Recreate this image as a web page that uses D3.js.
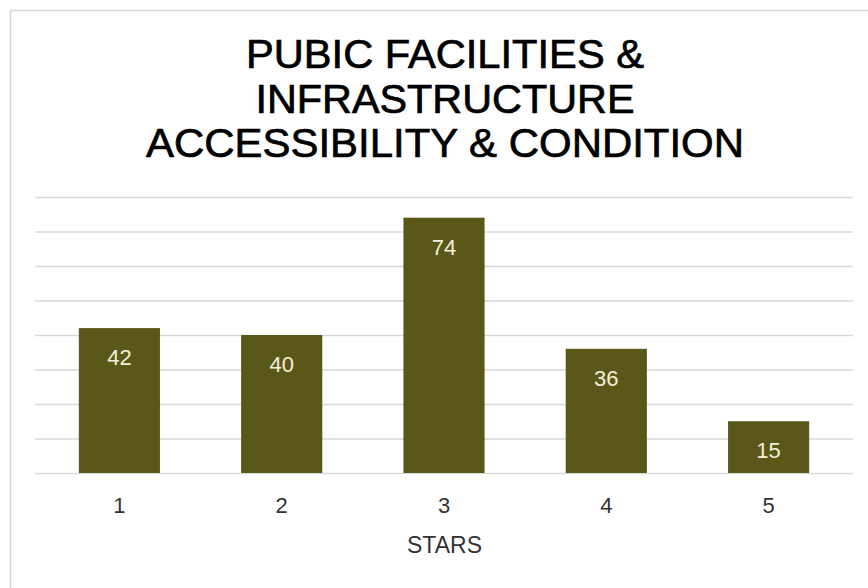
<!DOCTYPE html>
<html>
<head>
<meta charset="utf-8">
<script src="https://cdn.jsdelivr.net/npm/d3@7"></script>
<style>
  html, body { margin: 0; padding: 0; background: #ffffff; }
  svg { display: block; }
  text { font-family: "Liberation Sans", Arial, Helvetica, sans-serif; }
</style>
</head>
<body>
<svg id="chart" width="868" height="588"></svg>
<script>
const titleLines = ["PUBIC FACILITIES &", "INFRASTRUCTURE", "ACCESSIBILITY & CONDITION"];
const categories = ["1", "2", "3", "4", "5"];
const values = [42, 40, 74, 36, 15];
const yTicks = [0, 10, 20, 30, 40, 50, 60, 70, 80];
const xAxisTitle = "STARS";

const svg = d3.select("#chart");
const W = 868, H = 588;

// chart area border
svg.append("rect")
  .attr("x", 10.5).attr("y", 10.5)
  .attr("width", W + 20).attr("height", H + 20)
  .attr("fill", "#ffffff")
  .attr("stroke", "#d9d9d9").attr("stroke-width", 1.5);

const plot = { left: 35, right: 853, top: 197, bottom: 473 };

const x = d3.scaleBand()
  .domain(categories)
  .range([plot.left, plot.right])
  .paddingInner(0.5)
  .paddingOuter(0.27);

const y = d3.scaleLinear()
  .domain([0, 80])
  .range([plot.bottom, plot.top]);

// gridlines
const yAxis = d3.axisLeft(y).tickValues(yTicks).tickSize(-(plot.right - plot.left)).tickFormat("");
const gGrid = svg.append("g")
  .attr("transform", `translate(${plot.left},0)`)
  .call(yAxis);
gGrid.select(".domain").remove();
gGrid.selectAll(".tick line").attr("stroke", "#d9d9d9").attr("stroke-width", 1.5);

// title
const title = svg.append("g");
const titleWidths = [398, 379, 598];
titleLines.forEach((t, i) => {
  title.append("text")
    .attr("x", 445)
    .attr("y", 68 + i * 44.5)
    .attr("text-anchor", "middle")
    .attr("font-size", 41)
    .attr("fill", "#000000")
    .attr("stroke", "#000000")
    .attr("stroke-width", 0.7)
    .attr("textLength", titleWidths[i])
    .attr("lengthAdjust", "spacingAndGlyphs")
    .text(t);
});

// bars
svg.append("g").selectAll("rect")
  .data(values)
  .join("rect")
  .attr("x", (d, i) => x(categories[i]))
  .attr("y", d => y(d))
  .attr("width", x.bandwidth())
  .attr("height", d => y(0) - y(d))
  .attr("fill", "#5a5819");

// data labels
svg.append("g").selectAll("text")
  .data(values)
  .join("text")
  .attr("x", (d, i) => x(categories[i]) + x.bandwidth() / 2)
  .attr("y", d => y(d) + 37)
  .attr("text-anchor", "middle")
  .attr("font-size", 22)
  .attr("fill", "#f3efd8")
  .text(d => d);

// x axis labels
const xAxis = d3.axisBottom(x).tickSize(0).tickPadding(0);
const gX = svg.append("g")
  .attr("transform", `translate(0,${plot.bottom})`)
  .call(xAxis);
gX.select(".domain").remove();
gX.selectAll(".tick text")
  .attr("dy", null)
  .attr("y", 40)
  .attr("font-size", 22)
  .attr("font-family", "\"Liberation Sans\", Arial, sans-serif")
  .attr("fill", "#333333");

// x axis title
svg.append("text")
  .attr("x", (plot.left + plot.right) / 2 + 0.5)
  .attr("y", 553)
  .attr("text-anchor", "middle")
  .attr("font-size", 23)
  .attr("fill", "#333333")
  .text(xAxisTitle);
</script>
</body>
</html>
